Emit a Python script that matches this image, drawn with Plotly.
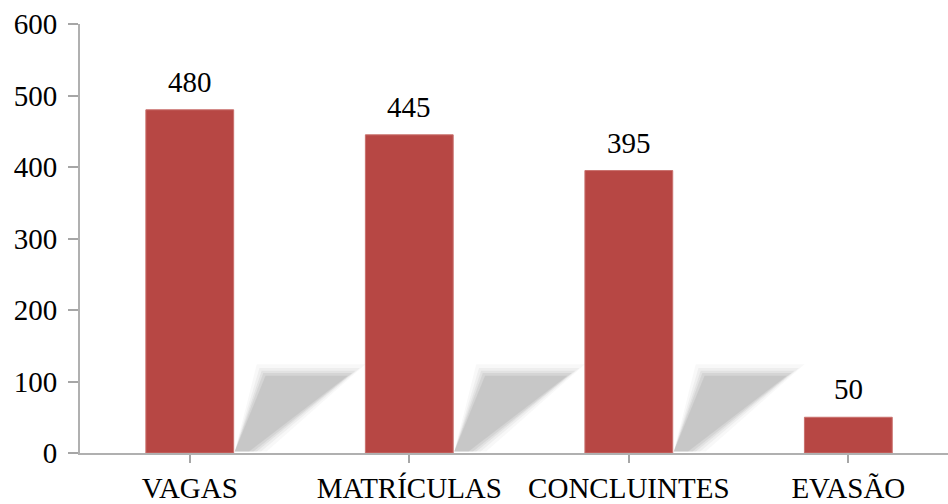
import plotly.graph_objects as go

categories = ["VAGAS", "MATRÍCULAS", "CONCLUINTES", "EVASÃO"]
values = [480, 445, 395, 50]
y_ticks = [0, 100, 200, 300, 400, 500, 600]
shadow_on = [True, True, True, False]

FONT = "Liberation Serif"
BAR_COLOR = "#B74744"

fig = go.Figure()
fig.add_trace(go.Bar(
    x=list(range(len(categories))),
    y=values,
    width=0.4,
    marker=dict(color=BAR_COLOR, line=dict(color="#C9706D", width=1)),
    hoverinfo="skip",
))

# value labels
for i, v in enumerate(values):
    fig.add_annotation(x=i, y=v, text=str(v), showarrow=False,
                       yanchor="middle", yshift=28,
                       font=dict(family=FONT, size=29, color="#000000"))

# decorative cast shadows (relative to bar right edge, constant height), layered to fake blur
shapes = []
layers = [(0.06, 0.07, 12), (0.09, 0.045, 7), (0.12, 0.025, 3), (0.15, 0.01, 0), (0.18, -0.01, -4)]
for i, on in enumerate(shadow_on):
    if not on:
        continue
    for op, g, gy in layers:
        x0 = i + 0.2
        p = [
            (x0 + 0.005, 2),
            (x0 + 0.08 + g, 2),
            (x0 + 0.53 + g, 112 + gy),
            (x0 + 0.14 - g * 0.5, 112 + gy),
        ]
        path = "M " + " L ".join(f"{a},{b}" for a, b in p) + " Z"
        shapes.append(dict(type="path", path=path, xref="x", yref="y",
                           fillcolor=f"rgba(140,140,140,{op})",
                           line=dict(width=0), layer="below"))
fig.update_layout(shapes=shapes)

fig.update_xaxes(
    range=[-0.5, 3.454],
    tickvals=list(range(len(categories))),
    ticktext=categories,
    tickson="boundaries",
    ticks="outside", ticklen=8, tickcolor="#A6A6A6", tickwidth=1.5,
    showline=True, linecolor="#B0B0B0", linewidth=2,
    showgrid=False, zeroline=False,
    tickfont=dict(family=FONT, size=29, color="#000000"),
)
fig.update_yaxes(
    range=[0, 600],
    tickvals=y_ticks,
    ticks="outside", ticklen=10, tickcolor="#A6A6A6", tickwidth=1.5,
    showline=True, linecolor="#B0B0B0", linewidth=2,
    showgrid=False, zeroline=False,
    ticklabelstandoff=5,
    tickfont=dict(family=FONT, size=29, color="#000000"),
)
fig.update_layout(
    width=948, height=504,
    margin=dict(l=80, r=0, t=24, b=51, pad=0),
    paper_bgcolor="white", plot_bgcolor="white",
    showlegend=False,
    bargap=0.6,
)
fig.write_html("out.html")
